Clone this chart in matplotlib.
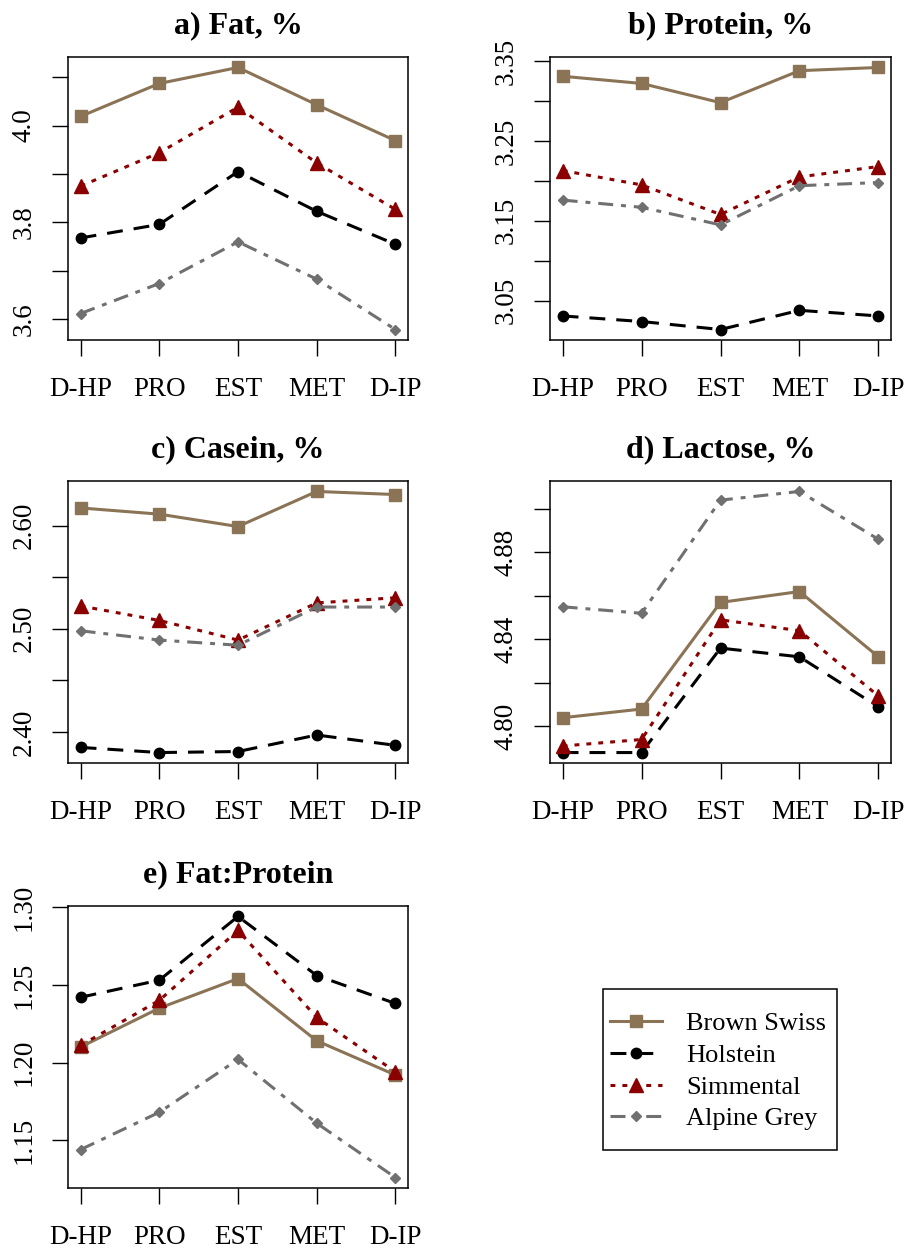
import numpy as np
import matplotlib
matplotlib.use("Agg")
import matplotlib.pyplot as plt
from matplotlib.patches import Rectangle

plt.rcParams["font.family"] = ["Liberation Serif", "DejaVu Serif"]

# Lactation stages on the x axis
stages = ["D-HP", "PRO", "EST", "MET", "D-IP"]

# Breed means per trait (same stage order as above)
fat_bs = [4.019, 4.087, 4.120, 4.043, 3.969]
fat_ho = [3.768, 3.796, 3.905, 3.823, 3.755]
fat_si = [3.875, 3.944, 4.038, 3.923, 3.827]
fat_ag = [3.612, 3.674, 3.760, 3.683, 3.579]

prot_bs = [3.331, 3.322, 3.298, 3.338, 3.342]
prot_ho = [3.031, 3.024, 3.014, 3.038, 3.031]
prot_si = [3.213, 3.195, 3.158, 3.205, 3.218]
prot_ag = [3.176, 3.167, 3.145, 3.194, 3.198]

cas_bs = [2.617, 2.611, 2.599, 2.633, 2.630]
cas_ho = [2.385, 2.380, 2.381, 2.397, 2.387]
cas_si = [2.522, 2.508, 2.489, 2.525, 2.530]
cas_ag = [2.498, 2.489, 2.484, 2.521, 2.521]

lac_bs = [4.804, 4.808, 4.857, 4.862, 4.832]
lac_ho = [4.788, 4.788, 4.836, 4.832, 4.809]
lac_si = [4.791, 4.794, 4.849, 4.844, 4.814]
lac_ag = [4.855, 4.852, 4.904, 4.908, 4.886]

fp_bs = [1.210, 1.235, 1.254, 1.214, 1.192]
fp_ho = [1.242, 1.253, 1.294, 1.256, 1.238]
fp_si = [1.211, 1.240, 1.285, 1.229, 1.194]
fp_ag = [1.144, 1.168, 1.202, 1.161, 1.126]

breeds = ["Brown Swiss", "Holstein", "Simmental", "Alpine Grey"]

# line style per breed: colour, dash pattern, marker, marker size
LW = 2.2
styles = {
    "Brown Swiss": dict(color="#8b7355", ls="-", marker="s", ms=9),
    "Holstein": dict(color="black", ls=(0, (5.2, 3.6)), marker="o", ms=7.5),
    "Simmental": dict(color="#8b0000", ls=(0, (1.6, 2.3)), marker="^", ms=9.5),
    "Alpine Grey": dict(color="#707070", ls=(0, (4.9, 2.6, 1.6, 2.6)), marker="D", ms=5.5),
}

panels = [
    ("a) Fat, %", [fat_bs, fat_ho, fat_si, fat_ag], np.arange(3.6, 4.15, 0.1), 2, "%.1f"),
    ("b) Protein, %", [prot_bs, prot_ho, prot_si, prot_ag], np.arange(3.05, 3.36, 0.05), 2, "%.2f"),
    ("c) Casein, %", [cas_bs, cas_ho, cas_si, cas_ag], np.arange(2.40, 2.61, 0.05), 2, "%.2f"),
    ("d) Lactose, %", [lac_bs, lac_ho, lac_si, lac_ag], np.arange(4.80, 4.91, 0.02), 2, "%.2f"),
    ("e) Fat:Protein", [fp_bs, fp_ho, fp_si, fp_ag], np.arange(1.15, 1.31, 0.05), 1, "%.2f"),
]

W, H = 907, 1252
fig = plt.figure(figsize=(W / 100, H / 100), dpi=100)

# panel boxes in pixels: left, top, right, bottom
boxes = [
    (68, 57, 408, 340),
    (550, 57, 891, 340),
    (68, 481, 408, 763),
    (550, 481, 891, 763),
    (68, 906, 408, 1188),
]

x = np.arange(1, 6)
handles = []
for (title, series, yt, step, fmt), (l, t, r, b) in zip(panels, boxes):
    ax = fig.add_axes([l / W, 1 - b / H, (r - l) / W, (b - t) / H])
    for name, vals in zip(breeds, series):
        st = styles[name]
        h, = ax.plot(x, vals, color=st["color"], ls=st["ls"], lw=LW,
                     marker=st["marker"], ms=st["ms"], label=name)
        if len(handles) < 4:
            handles.append(h)
    ax.margins(x=0.04, y=0.04)
    ax.set_xticks(x)
    ax.set_xticklabels(stages)
    ax.set_yticks(yt)
    ax.set_yticklabels([fmt % v if i % step == 0 else "" for i, v in enumerate(yt)])
    ax.tick_params(axis="both", direction="out", length=11.5, width=1, labelsize=19.5)
    ax.tick_params(axis="x", pad=15)
    ax.tick_params(axis="y", pad=11, labelrotation=90)
    for lab in ax.get_yticklabels():
        lab.set_va("center")
    for sp in ax.spines.values():
        sp.set_linewidth(1.1)
    ax.set_title(title, fontsize=23, fontweight="bold", pad=17)

# legend entries without frame, box drawn separately
leg = fig.legend(handles=handles, labels=breeds, loc="upper left",
                 bbox_to_anchor=(610 / W, 1 - 1012 / H), fontsize=19,
                 frameon=False, handlelength=1.98, handletextpad=0.9,
                 labelspacing=0.31, borderpad=0, borderaxespad=0)
fig.patches.append(Rectangle((603 / W, 1 - 1150 / H), (837 - 603) / W, (1150 - 989) / H,
                             transform=fig.transFigure, fill=False,
                             edgecolor="black", linewidth=1.1))

fig.savefig("out.png", dpi=100)
